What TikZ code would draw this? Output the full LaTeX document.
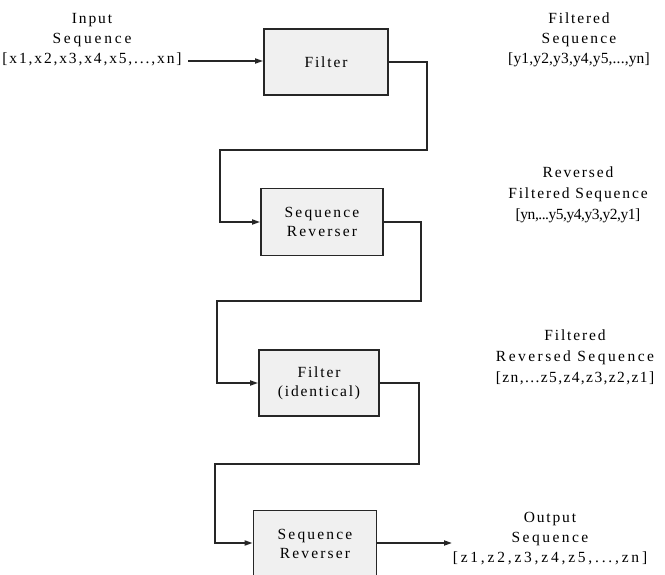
\documentclass[tikz,border=0pt]{standalone}
\usepackage{fontspec}
\setmainfont{Liberation Serif}[LetterSpace=12]
\usetikzlibrary{arrows.meta}
\newcommand{\lsp}[2]{{\addfontfeature{LetterSpace=#1}#2}}
\begin{document}
\begin{tikzpicture}[x=1pt,y=-1pt,
  blk/.style={draw=black!85, line width=1.7pt, fill=black!6, minimum width=124pt, minimum height=66pt, align=center, font=\fontsize{15.5}{19}\selectfont, inner sep=0pt},
  lbl/.style={align=center, font=\fontsize{15.5}{20}\selectfont, inner sep=0pt},
  conn/.style={draw=black!85, line width=1.7pt, -{Triangle[length=8pt,width=5pt]}}]
\useasboundingbox (0,0) rectangle (665,575);
\clip (0,0) rectangle (665,575);
\node[blk] (f1) at (326,62) {Filter};
\node[blk, minimum width=122pt, minimum height=67pt] (r1) at (322,222) {\lsp{14}{Sequence}\\\lsp{14}{Reverser}};
\node[blk, minimum width=120pt] (f2) at (319,383) {Filter\\(identical)};
\node[blk, minimum width=123pt, minimum height=67pt] (r2) at (315,544) {\lsp{14}{Sequence}\\\lsp{14}{Reverser}};

\node[lbl] (in) at (92,40) {Input\\\lsp{18}{Sequence}\\\lsp{12}{[x1,x2,x3,x4,x5,...,xn]}};
\node[lbl] (o1) at (579,40) {Filtered\\\lsp{14}{Sequence}\\\lsp{1}{[y1,y2,y3,y4,y5,...,yn]}};
\node[lbl, font=\fontsize{15.5}{21}\selectfont] (o2) at (578,195) {Reversed\\Filtered Sequence\\\lsp{-3}{[yn,...y5,y4,y3,y2,y1]}};
\node[lbl, font=\fontsize{15.5}{21}\selectfont] (o3) at (575,357) {Filtered\\\lsp{16}{Reversed Sequence}\\\lsp{9}{[zn,...z5,z4,z3,z2,z1]}};
\node[lbl] (o4) at (550,539) {Output\\\lsp{16}{Sequence}\\\lsp{18}{[z1,z2,z3,z4,z5,...,zn]}};

\coordinate (a1) at (427,62);
\coordinate (a2) at (427,150);
\coordinate (a3) at (220,150);
\coordinate (a4) at (220,222);
\coordinate (b1) at (421,222);
\coordinate (b2) at (421,301);
\coordinate (b3) at (217,301);
\coordinate (b4) at (217,383);
\coordinate (c1) at (419,383);
\coordinate (c2) at (419,464);
\coordinate (c3) at (215,464);
\coordinate (c4) at (215,543);
\coordinate (inend) at (188,61);
\coordinate (outend) at (452,543);

\draw[conn] (inend) -- (f1.west |- inend);
\draw[conn] (f1.east) -- (a1) -- (a2) -- (a3) -- (a4) -- (r1.west);
\draw[conn] (r1.east) -- (b1) -- (b2) -- (b3) -- (b4) -- (f2.west);
\draw[conn] (f2.east) -- (c1) -- (c2) -- (c3) -- (c4) -- (r2.west |- c4);
\draw[conn] (r2.east |- c4) -- (outend);
\end{tikzpicture}
\end{document}
